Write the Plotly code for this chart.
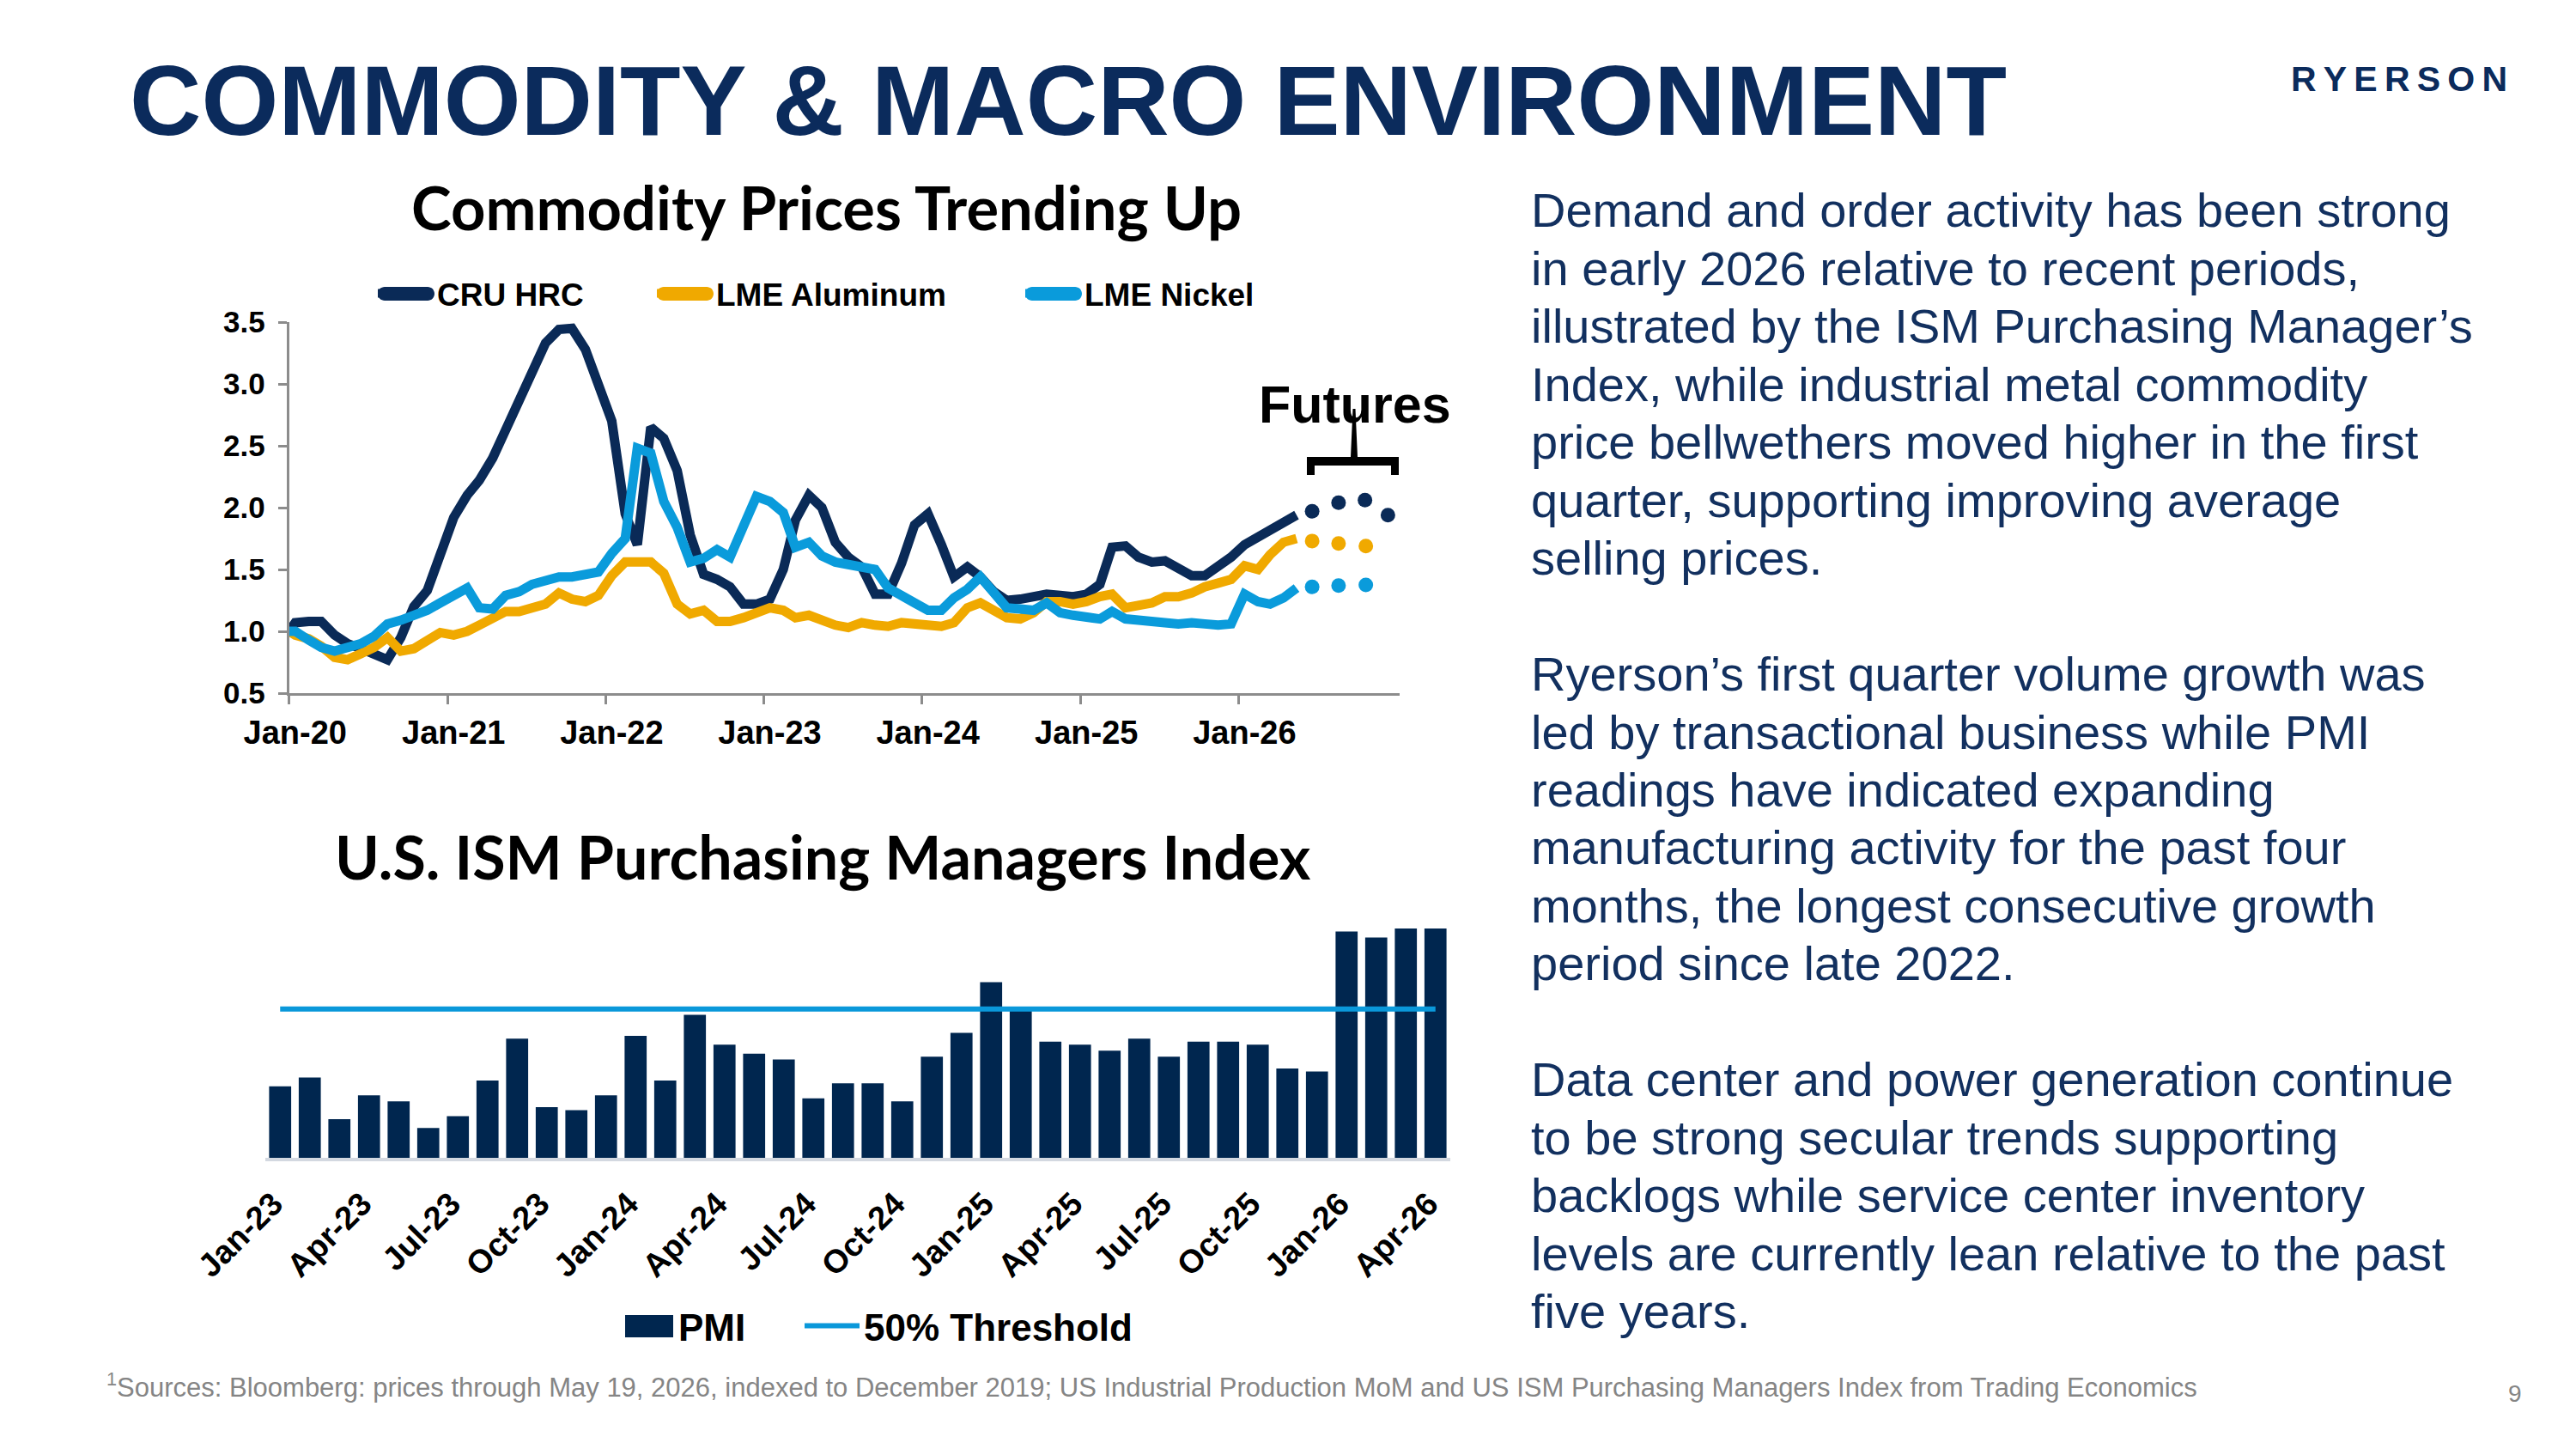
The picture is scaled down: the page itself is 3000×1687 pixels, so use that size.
import plotly.graph_objects as go
import pandas as pd

W, H = 3000, 1687
def px(x):
    return x / W
def py(y):
    return 1 - y / H

NAVY = "#0b2b5c"
LINE_NAVY = "#0a2a57"
GOLD = "#f0a900"
LBLUE = "#0a9bdb"
BAR_NAVY = "#00264f"
THRESH_BLUE = "#0a98da"
ARIAL = "Liberation Sans, Arial, sans-serif"
CAL = "Lato, Calibri, sans-serif"

# ---------------- Commodity prices (indexed to Dec-2019 = 1.0) ----------------
BASE_DATE = "2020-01-01"
BASE_VALUE = 1.0
month_dates = (pd.date_range("2020-01-01", periods=77, freq="MS") + pd.Timedelta(days=14)).strftime("%Y-%m-%d").tolist()

cru_hrc = [1.07, 1.08, 1.08, 0.97, 0.90, 0.86, 0.82, 0.77, 0.95, 1.20,
           1.33, 1.60, 1.92, 2.10, 2.22, 2.40, 2.63, 2.90, 3.10, 3.33,
           3.44, 3.45, 3.28, 3.00, 2.70, 1.95, 1.70, 2.65, 2.56, 2.30,
           1.78, 1.46, 1.42, 1.36, 1.22, 1.22, 1.26, 1.50, 1.90, 2.10,
           2.00, 1.72, 1.60, 1.52, 1.30, 1.30, 1.55, 1.86, 1.95, 1.70,
           1.44, 1.52, 1.44, 1.32, 1.25, 1.26, 1.29, 1.30, 1.29, 1.28,
           1.30, 1.38, 1.68, 1.69, 1.60, 1.56, 1.57, 1.52, 1.45, 1.45,
           1.52, 1.60, 1.70, 1.76, 1.82, 1.88, 1.94]
lme_aluminum = [0.97, 0.94, 0.88, 0.79, 0.77, 0.82, 0.87, 0.95, 0.84, 0.86,
                0.93, 0.99, 0.97, 1.00, 1.05, 1.11, 1.16, 1.16, 1.18, 1.22,
                1.31, 1.26, 1.24, 1.29, 1.45, 1.56, 1.56, 1.56, 1.47, 1.22,
                1.14, 1.17, 1.08, 1.08, 1.11, 1.14, 1.19, 1.17, 1.11, 1.13,
                1.09, 1.05, 1.03, 1.07, 1.05, 1.04, 1.07, 1.06, 1.06, 1.04,
                1.07, 1.19, 1.23, 1.17, 1.11, 1.10, 1.15, 1.24, 1.24, 1.22,
                1.24, 1.28, 1.30, 1.19, 1.21, 1.23, 1.28, 1.28, 1.31, 1.36,
                1.39, 1.42, 1.53, 1.50, 1.62, 1.72, 1.75]
lme_nickel = [1.00, 0.93, 0.87, 0.84, 0.86, 0.90, 0.96, 1.06, 1.09, 1.12,
              1.17, 1.23, 1.30, 1.35, 1.19, 1.18, 1.29, 1.32, 1.38, 1.41,
              1.44, 1.44, 1.47, 1.48, 1.63, 1.75, 2.48, 2.44, 2.05, 1.84,
              1.56, 1.59, 1.66, 1.60, 1.85, 2.09, 2.05, 1.96, 1.68, 1.72,
              1.61, 1.56, 1.54, 1.52, 1.50, 1.35, 1.28, 1.23, 1.17, 1.17,
              1.27, 1.34, 1.44, 1.32, 1.19, 1.18, 1.17, 1.23, 1.15, 1.13,
              1.12, 1.10, 1.16, 1.10, 1.09, 1.07, 1.07, 1.06, 1.07, 1.06,
              1.05, 1.06, 1.30, 1.24, 1.22, 1.27, 1.35]

futures_dates_cru = ["2026-06-20", "2026-08-20", "2026-10-20", "2026-12-12"]
futures_cru = [1.97, 2.04, 2.06, 1.94]
futures_dates_metals = ["2026-06-20", "2026-08-20", "2026-10-22"]
futures_aluminum = [1.73, 1.71, 1.69]
futures_nickel = [1.36, 1.37, 1.375]

year_ticks = ["2020-01-01", "2021-01-01", "2022-01-01", "2023-01-01",
              "2024-01-01", "2025-01-01", "2026-01-01"]
year_labels = ["Jan-20", "Jan-21", "Jan-22", "Jan-23", "Jan-24", "Jan-25", "Jan-26"]

# ---------------- ISM PMI ----------------
pmi_months = ["Jan-23", "Feb-23", "Mar-23", "Apr-23", "May-23", "Jun-23", "Jul-23", "Aug-23",
              "Sep-23", "Oct-23", "Nov-23", "Dec-23", "Jan-24", "Feb-24", "Mar-24", "Apr-24",
              "May-24", "Jun-24", "Jul-24", "Aug-24", "Sep-24", "Oct-24", "Nov-24", "Dec-24",
              "Jan-25", "Feb-25", "Mar-25", "Apr-25", "May-25", "Jun-25", "Jul-25", "Aug-25",
              "Sep-25", "Oct-25", "Nov-25", "Dec-25", "Jan-26", "Feb-26", "Mar-26", "Apr-26"]
pmi_values = [47.4, 47.7, 46.3, 47.1, 46.9, 46.0, 46.4, 47.6, 49.0, 46.7,
              46.6, 47.1, 49.1, 47.6, 49.8, 48.8, 48.5, 48.3, 47.0, 47.5,
              47.5, 46.9, 48.4, 49.2, 50.9, 50.0, 48.9, 48.8, 48.6, 49.0,
              48.4, 48.9, 48.9, 48.8, 48.0, 47.9, 52.6, 52.4, 52.7, 52.7]
THRESHOLD = 50
pmi_tick_labels = ["Jan-23", "Apr-23", "Jul-23", "Oct-23", "Jan-24", "Apr-24", "Jul-24",
                   "Oct-24", "Jan-25", "Apr-25", "Jul-25", "Oct-25", "Jan-26", "Apr-26"]

fig = go.Figure()

series = [("CRU HRC", cru_hrc, LINE_NAVY, "legend", futures_dates_cru, futures_cru),
          ("LME Aluminum", lme_aluminum, GOLD, "legend2", futures_dates_metals, futures_aluminum),
          ("LME Nickel", lme_nickel, LBLUE, "legend3", futures_dates_metals, futures_nickel)]
for name, vals, col, leg, fd, fv in series:
    fig.add_trace(go.Scatter(x=[BASE_DATE] + month_dates, y=[BASE_VALUE] + vals, mode="lines",
                             name=name, line=dict(color=col, width=11), legend=leg,
                             xaxis="x", yaxis="y"))
for name, vals, col, leg, fd, fv in series:
    fig.add_trace(go.Scatter(x=fd, y=fv, mode="markers", showlegend=False,
                             marker=dict(color=col, size=17, line=dict(width=0)),
                             xaxis="x", yaxis="y"))

fig.add_trace(go.Bar(x=pmi_months, y=pmi_values, name="PMI", marker=dict(color=BAR_NAVY, line=dict(width=0)),
                     xaxis="x2", yaxis="y2", legend="legend4"))
fig.add_trace(go.Scatter(x=pmi_months, y=[THRESHOLD] * len(pmi_months), mode="lines", name="50% Threshold",
                         line=dict(color=THRESH_BLUE, width=6), xaxis="x2", yaxis="y2", legend="legend5"))

axis_gray = "#8c8c8c"
tickfont = dict(family=ARIAL, size=38, color="black", weight="bold")

def leg(xpx, ypx, size, iw):
    return dict(x=px(xpx), y=py(ypx), xanchor="left", yanchor="middle", orientation="h",
                bgcolor="rgba(0,0,0,0)", borderwidth=0, itemwidth=iw,
                font=dict(family=ARIAL, size=size, color="black", weight="bold"))

fig.update_layout(
    width=W, height=H, margin=dict(l=0, r=0, t=0, b=0, pad=0, autoexpand=False),
    paper_bgcolor="white", plot_bgcolor="white",
    bargap=0.255,
    xaxis=dict(type="date", range=["2020-01-01", "2027-01-08"], domain=[px(336.7), px(1630)], anchor="y",
               tickvals=year_ticks, ticktext=year_labels, ticks="outside", ticklen=10, tickwidth=3,
               tickcolor=axis_gray, showline=True, linecolor=axis_gray, linewidth=3, showgrid=False,
               zeroline=False, tickfont=tickfont, ticklabelshift=7, automargin=False),
    yaxis=dict(range=[0.5, 3.5], dtick=0.5, tick0=0.5, tickformat=".1f", domain=[py(807), py(375)], anchor="x",
               ticks="outside", ticklen=10, tickwidth=3, tickcolor=axis_gray, showline=True,
               linecolor=axis_gray, linewidth=3, showgrid=False, zeroline=False, automargin=False,
               ticklabelstandoff=8,
               tickfont=dict(family=ARIAL, size=35, color="black", weight="bold")),
    xaxis2=dict(type="category", domain=[px(309), px(1689)], anchor="y2", tickvals=pmi_tick_labels,
                tickangle=-45, ticks="", showline=True, linecolor="#d3d8e0", linewidth=4,
                showgrid=False, zeroline=False, tickfont=tickfont, automargin=False,
                ticklabelstandoff=12, ticklabelshift=-8),
    yaxis2=dict(range=[45, 53], domain=[py(1348), py(1070.7)], anchor="x2", visible=False),
    legend=leg(435, 342, 37, 64),
    legend2=leg(760, 342, 37, 64),
    legend3=leg(1189, 342, 37, 64),
    legend4=leg(720, 1544, 44, 60),
    legend5=leg(932, 1544, 44, 64),
    showlegend=True,
)

ann = []
def text(s, x, y, size, color="black", family=ARIAL, weight="normal", xanchor="left"):
    ann.append(dict(text=s, x=px(x), y=py(y), xref="paper", yref="paper", xanchor=xanchor,
                    yanchor="middle", showarrow=False,
                    font=dict(family=family, size=size, color=color, weight=weight)))

text("COMMODITY &amp; MACRO ENVIRONMENT", 149, 117, 115.5, NAVY, weight="bold")
text("R\u2009Y\u2009E\u2009R\u2009S\u2009O\u2009N", 2794, 92, 41, NAVY, weight="bold", xanchor="center")
text("Commodity Prices Trending Up", 962, 241, 70.5, "black", CAL, "bold", "center")
text("U.S. ISM Purchasing Managers Index", 958, 997, 70, "black", CAL, "bold", "center")
text("Futures", 1578, 471, 61, "black", weight="bold", xanchor="center")

para_lines = [
    "Demand and order activity has been strong",
    "in early 2026 relative to recent periods,",
    "illustrated by the ISM Purchasing Manager\u2019s",
    "Index, while industrial metal commodity",
    "price bellwethers moved higher in the first",
    "quarter, supporting improving average",
    "selling prices.",
    "",
    "Ryerson\u2019s first quarter volume growth was",
    "led by transactional business while PMI",
    "readings have indicated expanding",
    "manufacturing activity for the past four",
    "months, the longest consecutive growth",
    "period since late 2022.",
    "",
    "Data center and power generation continue",
    "to be strong secular trends supporting",
    "backlogs while service center inventory",
    "levels are currently lean relative to the past",
    "five years.",
]
for i, line in enumerate(para_lines):
    if line:
        text(line, 1781, 244.9 + 67.46 * i, 56, "#12305f")

text("<sup>1</sup>Sources: Bloomberg: prices through May 19, 2026, indexed to December 2019; US Industrial Production MoM and US ISM Purchasing Managers Index from Trading Economics",
     122, 1613, 31, "#858585")
text("9", 2929, 1622, 28, "#858585", xanchor="center")

fig.update_layout(annotations=ann)

def to_path(pts_cmds):
    return pts_cmds

# Futures bracket
pts = [(1522, 553), (1522, 532), (1573, 532), (1575.5, 476), (1578.5, 476), (1581, 532),
       (1629, 532), (1629, 553), (1620, 553), (1620, 542), (1531, 542), (1531, 553)]
path = "M " + " L ".join(f"{px(a):.5f},{py(b):.5f}" for a, b in pts) + " Z"
fig.add_shape(type="path", path=path, xref="paper", yref="paper", fillcolor="black", line=dict(width=0))

# thicker, round-ended legend keys (styling of the legend swatches)
def P(a, b):
    return f"{px(a):.5f},{py(b):.5f}"

def rounded_key(x1, x2, yc, r):
    k = 0.5523 * r
    return (f"M {P(x1 + r, yc - r)} L {P(x2 - r, yc - r)} "
            f"C {P(x2 - r + k, yc - r)} {P(x2, yc - k)} {P(x2, yc)} "
            f"C {P(x2, yc + k)} {P(x2 - r + k, yc + r)} {P(x2 - r, yc + r)} "
            f"L {P(x1 + r, yc + r)} "
            f"C {P(x1 + r - k, yc + r)} {P(x1, yc + k)} {P(x1, yc)} "
            f"C {P(x1, yc - k)} {P(x1 + r - k, yc - r)} {P(x1 + r, yc - r)} Z")

for x1, col in [(440, LINE_NAVY), (765, GOLD), (1194, LBLUE)]:
    fig.add_shape(type="path", path=rounded_key(x1, x1 + 66, 342, 8), xref="paper", yref="paper",
                  fillcolor=col, line=dict(width=0), layer="above")
fig.add_shape(type="rect", x0=px(728), x1=px(784), y0=py(1557), y1=py(1531), xref="paper", yref="paper",
              fillcolor=BAR_NAVY, line=dict(width=0), layer="above")

fig.write_html("out.html")
